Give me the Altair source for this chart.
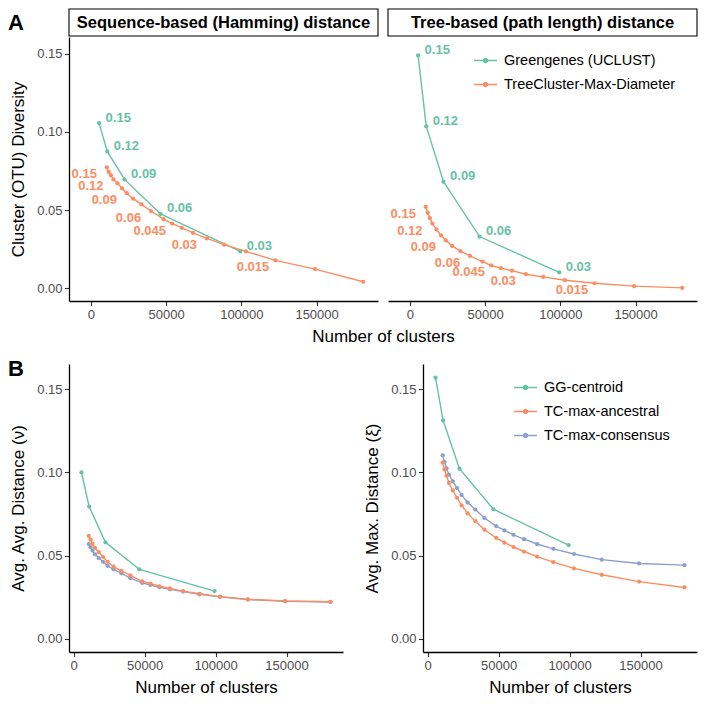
import altair as alt
import pandas as pd

# ------------------------------------------------------------------ data
TC_CLUSTERS = [10600, 11900, 13300, 15000, 17700, 20700, 23900, 28100, 33600, 40000,
               48300, 54100, 60500, 67900, 77100, 88600, 103100, 122700, 149000, 181000]
GG_CLUSTERS = [5500, 10900, 22400, 46300, 99300]

GG_LABELS = ["0.15", "0.12", "0.09", "0.06", "0.03"]
TC_LABELS = ["0.15", "", "", "0.12", "", "", "0.09", "", "", "0.06",
             "", "0.045", "", "", "0.03", "", "", "0.015", "", ""]

# Panel A, sequence-based (Hamming) distance
GG_HAMMING = [0.1056, 0.0875, 0.0696, 0.0475, 0.0236]
TC_HAMMING = [0.0773, 0.0744, 0.0723, 0.0696, 0.0671, 0.0639, 0.0608, 0.0573, 0.0536, 0.0494,
              0.0442, 0.0414, 0.0386, 0.0354, 0.0319, 0.0279, 0.0236, 0.0179, 0.0123, 0.0042]
# Panel A, tree-based (path length) distance
GG_TREE = [0.1488, 0.1035, 0.0681, 0.0331, 0.0102]
TC_TREE = [0.0520, 0.0483, 0.0448, 0.0414, 0.0377, 0.0338, 0.0307, 0.0271, 0.0238, 0.0207,
           0.0171, 0.0146, 0.0129, 0.0113, 0.0090, 0.0073, 0.0052, 0.0032, 0.0014, 0.0003]
# Panel B, average average distance
GG_AVG = [0.1000, 0.0795, 0.0580, 0.0418, 0.0287]
ANC_AVG = [0.0619, 0.0596, 0.0572, 0.0547, 0.0521, 0.0492, 0.0463, 0.0434, 0.0408, 0.0381,
           0.0346, 0.0332, 0.0316, 0.0303, 0.0287, 0.0271, 0.0254, 0.0238, 0.0228, 0.0223]
CON_AVG = [0.0570, 0.0551, 0.0531, 0.0508, 0.0486, 0.0463, 0.0439, 0.0418, 0.0394, 0.0365,
           0.0336, 0.0324, 0.0310, 0.0298, 0.0284, 0.0268, 0.0252, 0.0236, 0.0226, 0.0221]
# Panel B, average maximum distance
GG_MAX = [0.1570, 0.1312, 0.1023, 0.0779, 0.0564]
ANC_MAX = [0.1059, 0.1019, 0.0980, 0.0937, 0.0892, 0.0848, 0.0803, 0.0754, 0.0707, 0.0656,
           0.0607, 0.0578, 0.0552, 0.0525, 0.0494, 0.0461, 0.0424, 0.0385, 0.0344, 0.0309]
CON_MAX = [0.1103, 0.1064, 0.1025, 0.0986, 0.0947, 0.0906, 0.0865, 0.0820, 0.0777, 0.0726,
           0.0678, 0.0652, 0.0625, 0.0599, 0.0570, 0.0541, 0.0510, 0.0476, 0.0453, 0.0443]

A_METHODS = ["Greengenes (UCLUST)", "TreeCluster-Max-Diameter"]
B_METHODS = ["GG-centroid", "TC-max-ancestral", "TC-max-consensus"]
STRIPS = ["Sequence-based (Hamming) distance", "Tree-based (path length) distance"]
X_TICKS = [0, 50000, 100000, 150000]
Y_TICKS = [0.0, 0.05, 0.10, 0.15]

# ------------------------------------------------------------------ style
FONT = "Liberation Sans, Arial, Helvetica, sans-serif"
GREEN, ORANGE, BLUE = "#66C2A5", "#FC8D62", "#8DA0CB"
XDOM_A, YDOM_A = [-14500, 190800], [-0.0081, 0.1606]
XDOM_B, YDOM_B = [-3300, 189800], [-0.0079, 0.1652]
WA, HA = 309, 264
WB, HB = 274, 288
SYMBOL = ("M-1,0L1,0"
          "M0.17,0A0.17,0.17,0,1,1,-0.17,0A0.17,0.17,0,1,1,0.17,0"
          "M0.08,0A0.08,0.08,0,1,1,-0.08,0A0.08,0.08,0,1,1,0.08,0")


def frame(series):
    rows = []
    for name, xs, ys, labels in series:
        for i, (xv, yv) in enumerate(zip(xs, ys)):
            rows.append({"method": name, "clusters": xv, "value": yv,
                         "label": labels[i] if labels else "", "order": len(rows)})
    return pd.DataFrame(rows)


def make_legend(x, y):
    return alt.Legend(title=None, orient="none", legendX=x, legendY=y, direction="vertical",
                      symbolType=SYMBOL, symbolSize=529, symbolStrokeWidth=1.5,
                      labelFontSize=14.5, labelFont=FONT, labelColor="black", labelLimit=0,
                      labelOffset=6, rowPadding=5, padding=0)


def tag(letter, y):
    return alt.Chart(pd.DataFrame({"t": [letter]})).mark_text(
        align="left", baseline="middle", fontSize=22, fontWeight="bold", font=FONT, color="black"
    ).encode(x=alt.value(-61), y=alt.value(y), text="t:N")


def panel(df, methods, colors, width, height, xdom, ydom, xaxis, yaxis, legend,
          strip=None, letter=None, letter_y=0, labelled=False):
    x = alt.X("clusters:Q", scale=alt.Scale(domain=xdom, nice=False, zero=False), axis=xaxis)
    y = alt.Y("value:Q", scale=alt.Scale(domain=ydom, nice=False, zero=False), axis=yaxis)
    color = alt.Color("method:N", scale=alt.Scale(domain=methods, range=colors), legend=legend)
    base = alt.Chart(df)
    layers = []
    if strip is not None:
        sdf = pd.DataFrame({"s": [strip]})
        layers.append(alt.Chart(sdf).mark_rect(fill="white", stroke="black", strokeWidth=1.1).encode(
            x=alt.value(0), x2=alt.value(width), y=alt.value(-28), y2=alt.value(-1)))
        layers.append(alt.Chart(sdf).mark_text(fontSize=16.5, fontWeight="bold", font=FONT,
                                               color="black", baseline="middle").encode(
            x=alt.value(width / 2), y=alt.value(-14.5), text="s:N"))
    layers.append(base.mark_line(strokeWidth=1.4).encode(x=x, y=y, color=color, order="order:Q"))
    layers.append(base.mark_circle(size=18, opacity=1).encode(x=x, y=y, color=color, order="order:Q"))
    if labelled:
        layers.append(base.transform_filter(alt.datum.method == methods[0]).mark_text(
            align="left", baseline="middle", dx=6.5, dy=-5.5, fontSize=13, fontWeight="bold",
            font=FONT, color=colors[0]).encode(x=x, y=y, text="label:N"))
        layers.append(base.transform_filter(
            (alt.datum.method == methods[1]) & (alt.datum.label != "")).mark_text(
            align="center", baseline="middle", dx=-22.5, dy=7, fontSize=13, fontWeight="bold",
            font=FONT, color=colors[1]).encode(x=x, y=y, text="label:N"))
    if letter is not None:
        layers.append(tag(letter, letter_y))
    return alt.layer(*layers).properties(width=width, height=height)


def xaxis(title, **kw):
    return alt.Axis(values=X_TICKS, format="d", title=title, **kw)


def yaxis(title):
    return alt.Axis(values=Y_TICKS, format=".2f", title=title, titlePadding=9)


# ------------------------------------------------------------------ panel A
df_a1 = frame([(A_METHODS[0], GG_CLUSTERS, GG_HAMMING, GG_LABELS),
               (A_METHODS[1], TC_CLUSTERS, TC_HAMMING, TC_LABELS)])
df_a2 = frame([(A_METHODS[0], GG_CLUSTERS, GG_TREE, GG_LABELS),
               (A_METHODS[1], TC_CLUSTERS, TC_TREE, TC_LABELS)])

a1 = panel(df_a1, A_METHODS, [GREEN, ORANGE], WA, HA, XDOM_A, YDOM_A,
           xaxis("Number of clusters", titleX=(2 * WA + 10) / 2),
           yaxis("Cluster (OTU) Diversity"), None,
           strip=STRIPS[0], letter="A", letter_y=-14, labelled=True)
a2 = panel(df_a2, A_METHODS, [GREEN, ORANGE], WA, HA, XDOM_A, YDOM_A,
           xaxis(None), None, make_legend(85, 11),
           strip=STRIPS[1], labelled=True)
row_a = alt.hconcat(a1, a2, spacing=10, bounds="flush").resolve_scale(color="independent")

# ------------------------------------------------------------------ panel B
df_b1 = frame([(B_METHODS[2], TC_CLUSTERS, CON_AVG, None),
               (B_METHODS[0], GG_CLUSTERS, GG_AVG, None),
               (B_METHODS[1], TC_CLUSTERS, ANC_AVG, None)])
df_b2 = frame([(B_METHODS[2], TC_CLUSTERS, CON_MAX, None),
               (B_METHODS[0], GG_CLUSTERS, GG_MAX, None),
               (B_METHODS[1], TC_CLUSTERS, ANC_MAX, None)])

b1 = panel(df_b1, B_METHODS, [GREEN, ORANGE, BLUE], WB, HB, XDOM_B, YDOM_B,
           xaxis("Number of clusters"), yaxis("Avg. Avg. Distance (ν)"), None,
           letter="B", letter_y=5)
b2 = panel(df_b2, B_METHODS, [GREEN, ORANGE, BLUE], WB, HB, XDOM_B, YDOM_B,
           xaxis("Number of clusters"), yaxis("Avg. Max. Distance (ξ)"), make_legend(90, 11))
row_b = alt.hconcat(b1, b2, spacing=80, bounds="flush").resolve_scale(color="independent")

chart = alt.vconcat(row_a, row_b, spacing=14).resolve_scale(color="independent").properties(
    padding=0
).configure_view(stroke=None).configure_axis(
    domainColor="black", domainWidth=1.3, tickColor="#333333", tickWidth=1.1, tickSize=4.5,
    labelColor="#4D4D4D", labelFontSize=13, labelFont=FONT, labelPadding=2.5,
    titleFont=FONT, titleFontSize=17, titleFontWeight="normal", titleColor="black",
    titlePadding=7, grid=False
).configure_text(font=FONT)

chart.save("out.html", embed_options={"renderer": "svg", "actions": False})
